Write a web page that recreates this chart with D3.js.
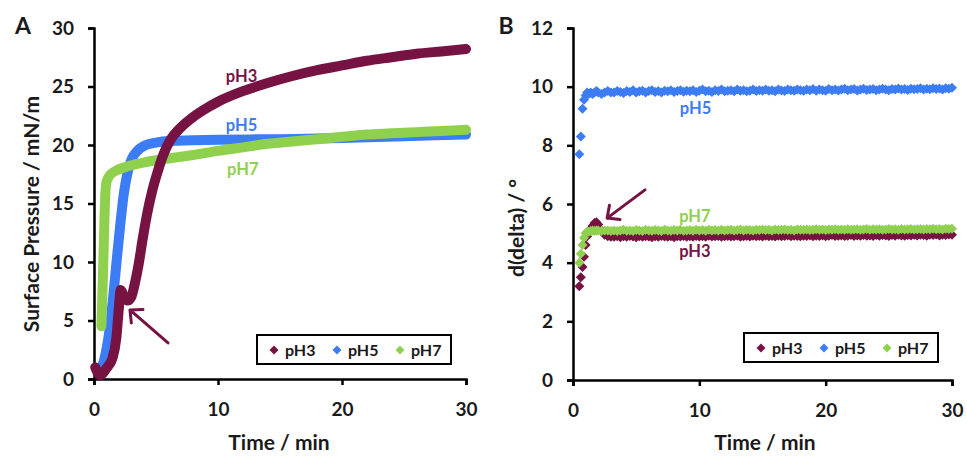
<!DOCTYPE html>
<head>
<meta charset="utf-8">
<style>
body { margin: 0; background: #fff; }
svg text { font-family: Lato, "Open Sans", sans-serif; font-weight: bold; }
.axis path, .axis line { stroke: #000; stroke-width: 2.5; }
.axis text { font-size: 19px; fill: #1a1a1a; }
</style>
</head>
<body>
<svg width="967" height="458"></svg>
<script src="https://cdn.jsdelivr.net/npm/d3@7"></script>
<script>

var svg = d3.select("svg");

var series = ["pH3", "pH5", "pH7"];
var colors = {pH3: "#761343", pH5: "#3c7cf4", pH7: "#8fd14f"};

// panel A - surface pressure (mN/m) vs time (min)
var tA_pH3 = [0.1, 0.5, 1.0, 1.5, 1.8, 2.0, 2.15, 2.4, 2.7, 3.0, 3.3, 3.6, 3.9, 4.3, 4.7, 5.1, 5.6, 6.2, 7, 8, 9, 10, 12, 14, 16, 18, 20, 22, 24, 26, 28, 30];
var vA_pH3 = [1.0, 0.3, 0.9, 1.8, 3.5, 6.0, 7.6, 7.1, 6.7, 7.0, 8.2, 9.8, 11.8, 14.2, 16.1, 17.6, 19.2, 20.5, 21.5, 22.4, 23.1, 23.7, 24.6, 25.3, 25.9, 26.4, 26.8, 27.2, 27.5, 27.8, 28.0, 28.2];
var tA_pH5 = [0.25, 0.5, 0.9, 1.2, 1.5, 1.8, 2.1, 2.4, 2.7, 3.0, 3.5, 4.0, 5, 6, 8, 10, 15, 20, 25, 30];
var vA_pH5 = [0.8, 0.9, 2.0, 3.8, 6.5, 9.8, 13.0, 15.8, 17.6, 18.7, 19.5, 19.9, 20.2, 20.35, 20.4, 20.45, 20.5, 20.6, 20.75, 20.9];
var tA_pH7 = [0.6, 0.7, 0.8, 0.9, 1.0, 1.2, 1.6, 2.5, 4, 6, 8, 10, 12, 14, 16, 18, 20, 22, 24, 26, 28, 30];
var vA_pH7 = [4.5, 8.0, 12.0, 15.5, 16.8, 17.3, 17.7, 18.1, 18.5, 18.85, 19.15, 19.5, 19.8, 20.1, 20.3, 20.5, 20.7, 20.9, 21.0, 21.1, 21.2, 21.3];

// panel B - d(delta) (deg) vs time (min)
var tB = [0.5, 0.62, 0.75, 0.87, 1.0, 1.12, 1.25, 1.4, 1.55, 1.7, 1.85, 2.0, 2.25, 2.5, 2.75, 3.0,
  3.25, 3.5, 3.75, 4, 4.25, 4.5, 4.75, 5, 5.25, 5.5, 5.75, 6,
  6.25, 6.5, 6.75, 7, 7.25, 7.5, 7.75, 8, 8.25, 8.5, 8.75, 9,
  9.25, 9.5, 9.75, 10, 10.25, 10.5, 10.75, 11, 11.25, 11.5, 11.75, 12,
  12.25, 12.5, 12.75, 13, 13.25, 13.5, 13.75, 14, 14.25, 14.5, 14.75, 15,
  15.25, 15.5, 15.75, 16, 16.25, 16.5, 16.75, 17, 17.25, 17.5, 17.75, 18,
  18.25, 18.5, 18.75, 19, 19.25, 19.5, 19.75, 20, 20.25, 20.5, 20.75, 21,
  21.25, 21.5, 21.75, 22, 22.25, 22.5, 22.75, 23, 23.25, 23.5, 23.75, 24,
  24.25, 24.5, 24.75, 25, 25.25, 25.5, 25.75, 26, 26.25, 26.5, 26.75, 27,
  27.25, 27.5, 27.75, 28, 28.25, 28.5, 28.75, 29, 29.25, 29.5, 29.75, 30];
var vB_pH3 = [3.2, 3.5, 3.85, 4.2, 4.6, 4.9, 5.05, 5.15, 5.25, 5.35, 5.38, 5.3, 5.1, 4.95, 4.9, 4.88,
  4.88, 4.9, 4.87, 4.9, 4.88, 4.91, 4.89, 4.87, 4.9, 4.88, 4.9, 4.89,
  4.87, 4.9, 4.88, 4.91, 4.89, 4.88, 4.9, 4.87, 4.9, 4.89, 4.91, 4.88,
  4.9, 4.88, 4.91, 4.89, 4.9, 4.88, 4.92, 4.89, 4.9, 4.91, 4.88, 4.9,
  4.91, 4.89, 4.9, 4.92, 4.88, 4.9, 4.91, 4.89, 4.92, 4.9, 4.91, 4.89,
  4.92, 4.9, 4.91, 4.89, 4.92, 4.9, 4.91, 4.93, 4.9, 4.92, 4.91, 4.9,
  4.92, 4.91, 4.93, 4.9, 4.92, 4.91, 4.93, 4.9, 4.92, 4.94, 4.91, 4.92,
  4.93, 4.91, 4.92, 4.94, 4.91, 4.93, 4.92, 4.94, 4.92, 4.93, 4.91, 4.94,
  4.92, 4.94, 4.93, 4.91, 4.94, 4.92, 4.95, 4.93, 4.92, 4.94, 4.93, 4.95,
  4.93, 4.95, 4.94, 4.92, 4.95, 4.94, 4.96, 4.93, 4.95, 4.94, 4.96, 4.95];
var vB_pH5 = [7.7, 8.3, 9.25, 9.55, 9.7, 9.8, 9.75, 9.8, 9.75, 9.8, 9.85, 9.8, 9.75, 9.8, 9.85, 9.8,
  9.8, 9.85, 9.82, 9.78, 9.85, 9.82, 9.88, 9.8, 9.84, 9.86, 9.8, 9.85,
  9.88, 9.82, 9.85, 9.8, 9.86, 9.84, 9.88, 9.82, 9.85, 9.88, 9.83, 9.86,
  9.84, 9.88, 9.82, 9.86, 9.9, 9.84, 9.86, 9.82, 9.88, 9.85, 9.9, 9.84,
  9.86, 9.88, 9.84, 9.9, 9.86, 9.88, 9.84, 9.86, 9.9, 9.85, 9.88, 9.86,
  9.9, 9.86, 9.88, 9.84, 9.9, 9.87, 9.85, 9.9, 9.88, 9.86, 9.9, 9.88,
  9.86, 9.9, 9.88, 9.92, 9.86, 9.9, 9.88, 9.86, 9.92, 9.88, 9.9, 9.87,
  9.9, 9.93, 9.88, 9.9, 9.92, 9.87, 9.9, 9.93, 9.89, 9.9, 9.92, 9.88,
  9.9, 9.93, 9.9, 9.88, 9.92, 9.9, 9.94, 9.9, 9.92, 9.89, 9.93, 9.91,
  9.92, 9.95, 9.9, 9.93, 9.91, 9.95, 9.92, 9.94, 9.9, 9.95, 9.93, 9.96];
var vB_pH7 = [4.0, 4.3, 4.6, 4.85, 5.0, 5.05, 5.05, 5.08, 5.1, 5.08, 5.1, 5.1, 5.08, 5.1, 5.1, 5.08,
  5.1, 5.08, 5.1, 5.12, 5.09, 5.1, 5.08, 5.11, 5.1, 5.08, 5.12, 5.1,
  5.09, 5.11, 5.1, 5.08, 5.12, 5.1, 5.09, 5.11, 5.1, 5.12, 5.09, 5.1,
  5.11, 5.09, 5.12, 5.1, 5.11, 5.09, 5.12, 5.1, 5.11, 5.1, 5.12, 5.1,
  5.11, 5.12, 5.1, 5.11, 5.13, 5.1, 5.12, 5.11, 5.1, 5.12, 5.11, 5.13,
  5.11, 5.12, 5.1, 5.13, 5.11, 5.12, 5.13, 5.11, 5.12, 5.1, 5.13, 5.12,
  5.12, 5.13, 5.11, 5.12, 5.14, 5.12, 5.13, 5.11, 5.13, 5.12, 5.14, 5.12,
  5.13, 5.12, 5.14, 5.12, 5.13, 5.14, 5.12, 5.13, 5.15, 5.12, 5.14, 5.13,
  5.14, 5.12, 5.13, 5.15, 5.13, 5.14, 5.12, 5.15, 5.13, 5.14, 5.15, 5.13,
  5.14, 5.15, 5.13, 5.15, 5.14, 5.16, 5.14, 5.15, 5.13, 5.16, 5.15, 5.16];

var xTicks = [0, 10, 20, 30];
var yTicksA = [0, 5, 10, 15, 20, 25, 30];
var yTicksB = [0, 2, 4, 6, 8, 10, 12];

// in-plot labels and arrows, data units
var labelsA = [{s: "pH3", t: 11.9, v: 25.4}, {s: "pH5", t: 11.9, v: 21.2}, {s: "pH7", t: 12.0, v: 17.4}];
var labelsB = [{s: "pH5", t: 9.7, v: 9.07}, {s: "pH7", t: 9.65, v: 5.39}, {s: "pH3", t: 9.65, v: 4.19}];
var arrowA = {t0: 5.97, v0: 3.08, t1: 2.9, v1: 5.9};
var arrowB = {t0: 5.7, v0: 6.48, t1: 2.7, v1: 5.52};

function zipA(t, v) { return t.map(function(d, i) { return [d, v[i]]; }); }

// ---- scales
var xA = d3.scaleLinear().domain([0, 30]).range([94, 466]);
var yA = d3.scaleLinear().domain([0, 30]).range([379, 28]);
var xB = d3.scaleLinear().domain([0, 30]).range([573, 952]);
var yB = d3.scaleLinear().domain([0, 12]).range([380, 28]);

function drawAxes(x, y, yt) {
  var gx = svg.append("g").attr("class", "axis")
    .attr("transform", "translate(0," + y.range()[0] + ")")
    .call(d3.axisBottom(x).tickValues(xTicks).tickSize(6).tickPadding(18));
  var gy = svg.append("g").attr("class", "axis")
    .attr("transform", "translate(" + x.range()[0] + ",0)")
    .call(d3.axisLeft(y).tickValues(yt).tickSize(6).tickPadding(14));
  gx.selectAll("path").attr("fill", "none");
  gy.selectAll("path").attr("fill", "none");
}
drawAxes(xA, yA, yTicksA);
drawAxes(xB, yB, yTicksB);

// ---- panel A lines
var lineA = d3.line().x(function(d) { return xA(d[0]); }).y(function(d) { return yA(d[1]); })
  .curve(d3.curveMonotoneX);
var dataA = {pH3: zipA(tA_pH3, vA_pH3), pH5: zipA(tA_pH5, vA_pH5), pH7: zipA(tA_pH7, vA_pH7)};
["pH5", "pH7", "pH3"].forEach(function(s) {
  svg.append("path")
    .attr("d", lineA(dataA[s]))
    .attr("fill", "none")
    .attr("stroke", colors[s])
    .attr("stroke-width", 10)
    .attr("stroke-linecap", "round")
    .attr("stroke-linejoin", "round");
});

// ---- panel B diamonds
var diamond = d3.symbol().type(d3.symbolSquare).size(50);
var dataB = {pH3: zipA(tB, vB_pH3), pH5: zipA(tB, vB_pH5), pH7: zipA(tB, vB_pH7)};
["pH3", "pH5", "pH7"].forEach(function(s) {
  svg.append("g").selectAll("path")
    .data(dataB[s])
    .enter().append("path")
    .attr("d", diamond)
    .attr("transform", function(d) { return "translate(" + xB(d[0]) + "," + yB(d[1]) + ") rotate(45)"; })
    .attr("fill", colors[s]);
});

// ---- in-plot labels
function drawLabels(lbls, x, y) {
  svg.append("g").selectAll("text")
    .data(lbls)
    .enter().append("text")
    .attr("x", function(d) { return x(d.t); })
    .attr("y", function(d) { return y(d.v); })
    .attr("text-anchor", "middle")
    .style("font-size", "16.5px")
    .attr("fill", function(d) { return colors[d.s]; })
    .text(function(d) { return d.s; });
}
drawLabels(labelsA, xA, yA);
drawLabels(labelsB, xB, yB);

// ---- arrows
function drawArrow(a, x, y) {
  var x0 = x(a.t0), y0 = y(a.v0), x1 = x(a.t1), y1 = y(a.v1);
  var ang = Math.atan2(y0 - y1, x0 - x1), L = 13, w = 0.75;
  var p = "M" + x0 + "," + y0 + "L" + x1 + "," + y1 +
    "M" + (x1 + L * Math.cos(ang + w)) + "," + (y1 + L * Math.sin(ang + w)) +
    "L" + x1 + "," + y1 +
    "L" + (x1 + L * Math.cos(ang - w)) + "," + (y1 + L * Math.sin(ang - w));
  svg.append("path").attr("d", p).attr("fill", "none")
    .attr("stroke", colors.pH3).attr("stroke-width", 3)
    .attr("stroke-linecap", "round").attr("stroke-linejoin", "round");
}
drawArrow(arrowA, xA, yA);
drawArrow(arrowB, xB, yB);

// ---- legends
function drawLegend(x0, y0) {
  var g = svg.append("g").attr("transform", "translate(" + x0 + "," + y0 + ")");
  g.append("rect").attr("width", 194).attr("height", 29)
    .attr("fill", "#fff").attr("stroke", "#000").attr("stroke-width", 2);
  var it = g.selectAll(".leg").data(series).enter().append("g")
    .attr("transform", function(d, i) { return "translate(" + (17 + i * 63) + ",15)"; });
  it.append("path").attr("d", d3.symbol().type(d3.symbolSquare).size(40))
    .attr("transform", "rotate(45)")
    .attr("fill", function(d) { return colors[d]; });
  it.append("text").attr("x", 11).attr("y", 6)
    .style("font-size", "16px").attr("fill", "#1a1a1a")
    .text(String);
}
drawLegend(257, 335);
drawLegend(744, 333);

// ---- titles
svg.append("text").attr("x", 23).attr("y", 34).attr("text-anchor", "middle")
  .style("font-size", "23px").attr("fill", "#1a1a1a").text("A");
svg.append("text").attr("x", 506).attr("y", 34).attr("text-anchor", "middle")
  .style("font-size", "23px").attr("fill", "#1a1a1a").text("B");

svg.append("text").attr("transform", "translate(39,214) rotate(-90)")
  .attr("text-anchor", "middle").style("font-size", "21px").attr("fill", "#1a1a1a")
  .text("Surface Pressure / mN/m");
svg.append("text").attr("transform", "translate(524,228) rotate(-90)")
  .attr("text-anchor", "middle").style("font-size", "21px").attr("fill", "#1a1a1a")
  .text("d(delta) / °");

svg.append("text").attr("x", 279).attr("y", 450).attr("text-anchor", "middle")
  .style("font-size", "21px").attr("fill", "#1a1a1a").text("Time / min");
svg.append("text").attr("x", 765).attr("y", 450).attr("text-anchor", "middle")
  .style("font-size", "21px").attr("fill", "#1a1a1a").text("Time / min");

</script>
</body>
